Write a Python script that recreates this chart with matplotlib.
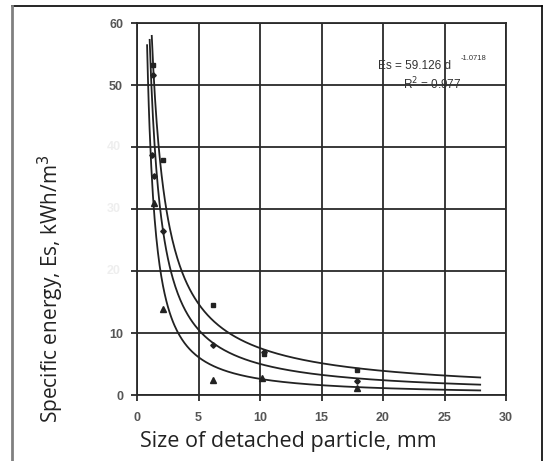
import numpy as np
import matplotlib.pyplot as plt
from matplotlib.lines import Line2D

# fitted power curves  Es = a * d^-b
curve_a = [69.0, 59.126, 44.2]
curve_b = [0.96, 1.0718, 1.23]
curve_start = [1.2, 1.03, 0.82]
curve_end = 27.9

# measured points
sq_d = [1.28, 2.14, 6.2, 10.3, 17.9]
sq_e = [53.2, 37.9, 14.5, 6.6, 4.1]
dia_d = [1.28, 1.25, 1.38, 2.14, 6.2, 10.3, 17.9]
dia_e = [51.6, 38.7, 35.3, 26.5, 8.1, 7.0, 2.3]
tri_d = [1.4, 2.14, 6.2, 10.2, 17.9]
tri_e = [31.0, 13.8, 2.4, 2.7, 1.1]

x_ticks = [0, 5, 10, 15, 20, 25, 30]
y_ticks = [0, 10, 20, 30, 40, 50, 60]
faint_y = [20, 30, 40]

fig = plt.figure(figsize=(5.46, 4.61), dpi=100)
ax = fig.add_axes([137/546, 1 - 395/461, 369/546, 372/461])

for a, b, d0 in zip(curve_a, curve_b, curve_start):
    d = np.linspace(d0, curve_end, 400)
    ax.plot(d, a * d ** (-b), color="#222222", lw=1.3)

ax.plot(sq_d, sq_e, "s", color="#222222", ms=3.5)
ax.plot(dia_d, dia_e, "D", color="#222222", ms=2.8)
ax.plot(tri_d, tri_e, "^", color="#222222", ms=3.8)

ax.set_xlim(0, 30)
ax.set_ylim(0, 60)
ax.set_xticks(x_ticks)
ax.set_yticks(y_ticks)

ax.grid(True, color="#2a2a2a", lw=1.3)
for s in ax.spines.values():
    s.set_color("#2a2a2a")
    s.set_linewidth(1.3)
ax.tick_params(axis="both", length=4, width=1.3, color="#2a2a2a",
               labelsize=9)
ax.tick_params(axis="x", pad=8)
ax.tick_params(axis="y", pad=6)

ax.set_xticklabels([str(v) for v in x_ticks], fontweight="bold",
                   family="Liberation Sans", color="#555555")
# the 20/30/40 labels are almost washed out in the original scan
ax.set_yticklabels(["" if v in faint_y else str(v) for v in y_ticks],
                   fontweight="bold", family="Liberation Sans",
                   color="#555555")
for v in faint_y:
    ax.text(-0.045, v, str(v), transform=ax.get_yaxis_transform(),
            ha="right", va="center", fontsize=9, fontweight="bold",
            family="Liberation Sans", color="#eeeeee")

ax.text(19.6, 52.6, "Es = 59.126 d", fontsize=8.5,
        family="Liberation Sans", color="#333333")
ax.text(26.3, 54.0, "-1.0718", fontsize=5.5,
        family="Liberation Sans", color="#333333")
ax.text(21.6, 50.2, "R$^2$ = 0.977", fontsize=8.5, va="center",
        family="Liberation Sans", color="#333333")

fig.text(288/546, 1 - 441/461, "Size of detached particle, mm", fontsize=15.5,
         family="Open Sans", color="#222222", ha="center", va="center")
fig.text(51/546, 1 - 289/461, "Specific energy, Es, kWh/m$^3$", fontsize=15,
         family="Open Sans", color="#222222", rotation=90,
         ha="center", va="center")

# outer frame of the picture
fig.add_artist(Line2D([12/546, 542/546], [1 - 6/461, 1 - 6/461],
                      transform=fig.transFigure, color="black", lw=1.2))
fig.add_artist(Line2D([12/546, 12/546], [0, 1 - 6/461],
                      transform=fig.transFigure, color="#808080", lw=2))
fig.add_artist(Line2D([542/546, 542/546], [0, 1 - 6/461],
                      transform=fig.transFigure, color="black", lw=1.2))

fig.savefig("out.png", dpi=100)
